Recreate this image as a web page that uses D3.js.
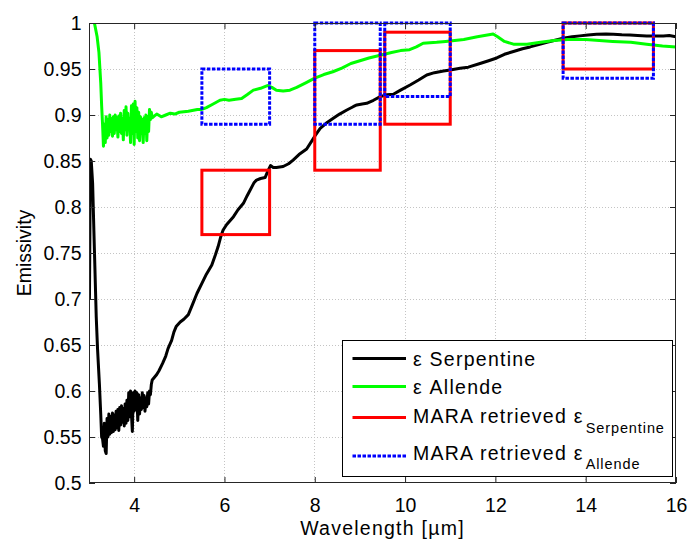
<!DOCTYPE html>
<html>
<head>
<meta charset="utf-8">
<script src="https://cdn.jsdelivr.net/npm/d3@7/dist/d3.min.js"></script>
<style>
  html, body { margin: 0; padding: 0; background: #fff; }
  svg { display: block; font-family: "Liberation Sans", Arial, Helvetica, sans-serif; }
</style>
</head>
<body>
<svg id="chart" width="689" height="541"></svg>
<script>
// Laboratory emissivity spectra (wavelength in µm)
const serpWavelength = [
  3.01, 3.03, 3.05, 3.08, 3.12, 3.16, 3.19, 3.23, 3.26, 3.28,
  3.30, 3.32, 3.34, 3.36, 3.38, 3.40, 3.42, 3.44, 3.46, 3.48,
  3.50, 3.52, 3.54, 3.56, 3.58, 3.60, 3.62, 3.64, 3.66, 3.68,
  3.70, 3.72, 3.74, 3.76, 3.78, 3.80, 3.82, 3.84, 3.86, 3.88,
  3.90, 3.92, 3.94, 3.96, 3.98, 4.00, 4.02, 4.04, 4.06, 4.08,
  4.10, 4.12, 4.14, 4.16, 4.18, 4.20, 4.22, 4.24, 4.26, 4.28,
  4.30, 4.32, 4.34, 4.36, 4.38, 4.40,
  4.45, 4.50, 4.55, 4.63, 4.70, 4.75, 4.83, 4.88, 4.93, 5.02,
  5.10, 5.20, 5.30, 5.39, 5.50, 5.60, 5.72, 5.80, 5.86, 5.92,
  5.97, 6.05, 6.20, 6.30, 6.42, 6.50, 6.57, 6.65, 6.71, 6.80,
  6.90, 6.97, 7.02, 7.08, 7.15, 7.30, 7.42, 7.52, 7.65, 7.82,
  7.95, 8.00, 8.12, 8.25, 8.41, 8.55, 8.71, 8.85, 8.93, 9.05,
  9.15, 9.30, 9.45, 9.60, 9.74, 9.90, 10.11, 10.30, 10.48, 10.65,
  10.85, 11.00, 11.22, 11.40, 11.66, 11.85, 12.03, 12.20, 12.40, 12.60,
  12.77, 13.00, 13.14, 13.30, 13.50, 13.70, 13.87, 14.05, 14.24, 14.45,
  14.61, 14.80, 14.98, 15.15, 15.35, 15.50, 15.72, 15.85, 16.00
];
const serpEmissivity = [
  0.700, 0.852, 0.850, 0.826, 0.753, 0.681, 0.645, 0.608, 0.575, 0.550,
  0.548, 0.540, 0.565, 0.535, 0.532, 0.570, 0.550, 0.575, 0.553, 0.572,
  0.555, 0.576, 0.556, 0.574, 0.558, 0.578, 0.560, 0.580, 0.557, 0.582,
  0.563, 0.584, 0.566, 0.581, 0.562, 0.586, 0.565, 0.590, 0.568, 0.598,
  0.572, 0.600, 0.575, 0.556, 0.598, 0.578, 0.600, 0.580, 0.598, 0.568,
  0.596, 0.575, 0.592, 0.580, 0.598, 0.582, 0.595, 0.578, 0.592, 0.583,
  0.598, 0.586, 0.600, 0.596, 0.607, 0.612,
  0.615, 0.618, 0.622, 0.630, 0.638, 0.646, 0.655, 0.664, 0.670, 0.675,
  0.678, 0.683, 0.695, 0.706, 0.717, 0.727, 0.737, 0.748, 0.757, 0.768,
  0.775, 0.781, 0.7895, 0.797, 0.804, 0.812, 0.8185, 0.826, 0.8293, 0.831,
  0.832, 0.840, 0.845, 0.843, 0.843, 0.844, 0.847, 0.851, 0.857, 0.863,
  0.873, 0.877, 0.8855, 0.891, 0.8964, 0.901, 0.9054, 0.909, 0.9109, 0.912,
  0.9127, 0.916, 0.920, 0.922, 0.9225, 0.927, 0.9326, 0.938, 0.9435, 0.946,
  0.9478, 0.949, 0.9507, 0.952, 0.956, 0.959, 0.962, 0.966, 0.969, 0.972,
  0.974, 0.977, 0.979, 0.981, 0.9834, 0.985, 0.986, 0.987, 0.9877, 0.988,
  0.9877, 0.9872, 0.987, 0.9865, 0.986, 0.9858, 0.986, 0.9865, 0.985
];

const allendeWavelength = [
  3.02, 3.12, 3.18, 3.22, 3.26, 3.28,
  3.30, 3.32, 3.34, 3.36, 3.38, 3.40, 3.42, 3.44, 3.46, 3.48,
  3.50, 3.52, 3.54, 3.56, 3.58, 3.60, 3.62, 3.64, 3.66, 3.68,
  3.70, 3.72, 3.74, 3.76, 3.78, 3.80, 3.82, 3.84, 3.86, 3.88,
  3.90, 3.92, 3.94, 3.96, 3.98, 4.00, 4.02, 4.04, 4.06, 4.08,
  4.10, 4.12, 4.14, 4.16, 4.18, 4.20, 4.22, 4.24, 4.26, 4.28,
  4.30, 4.32, 4.34, 4.36, 4.38, 4.40,
  4.45, 4.50, 4.60, 4.70, 4.80, 4.90, 5.00, 5.20, 5.40, 5.50,
  5.60, 5.75, 5.90, 6.00, 6.10, 6.25, 6.38, 6.50, 6.64, 6.80,
  6.95, 7.05, 7.15, 7.30, 7.45, 7.60, 7.80, 8.00, 8.20, 8.40,
  8.60, 8.80, 9.00, 9.20, 9.45, 9.70, 9.90, 10.10, 10.25, 10.40,
  10.70, 10.90, 11.30, 11.60, 11.95, 12.05, 12.20, 12.40, 12.70, 13.00,
  13.30, 13.60, 14.00, 14.30, 14.60, 15.00, 15.35, 15.70, 16.00
];
const allendeEmissivity = [
  1.020, 1.000, 0.985, 0.968, 0.935, 0.910,
  0.890, 0.866, 0.890, 0.870, 0.898, 0.875, 0.895, 0.878, 0.900, 0.882,
  0.896, 0.877, 0.898, 0.880, 0.900, 0.884, 0.897, 0.876, 0.899, 0.882,
  0.902, 0.880, 0.896, 0.873, 0.905, 0.884, 0.909, 0.878, 0.902, 0.885,
  0.896, 0.870, 0.910, 0.880, 0.912, 0.868, 0.915, 0.882, 0.908, 0.875,
  0.903, 0.872, 0.898, 0.880, 0.895, 0.870, 0.897, 0.880, 0.900, 0.872,
  0.898, 0.882, 0.906, 0.895, 0.903, 0.897,
  0.899, 0.901, 0.898, 0.900, 0.902, 0.901, 0.903, 0.904, 0.906, 0.906,
  0.908, 0.912, 0.916, 0.917, 0.916, 0.917, 0.918, 0.922, 0.927, 0.929,
  0.932, 0.930, 0.927, 0.926, 0.927, 0.930, 0.935, 0.940, 0.944, 0.947,
  0.951, 0.956, 0.959, 0.962, 0.965, 0.968, 0.970, 0.971, 0.974, 0.978,
  0.979, 0.980, 0.982, 0.985, 0.988, 0.985, 0.980, 0.977, 0.977, 0.979,
  0.981, 0.982, 0.982, 0.981, 0.980, 0.979, 0.977, 0.975, 0.974
];

// MARA retrieved emissivity ranges per spectral band
const maraBandLo = [5.5, 8.0, 9.55, 13.5];
const maraBandHi = [7.0, 9.45, 11.0, 15.5];
const maraSerpLo = [0.77, 0.84, 0.89, 0.95];
const maraSerpHi = [0.84, 0.97, 0.99, 1.00];
const maraAllendeLo = [0.89, 0.89, 0.92, 0.94];
const maraAllendeHi = [0.95, 1.00, 1.00, 1.00];

const xTicks = [4, 6, 8, 10, 12, 14, 16];
const yTicks = [0.5, 0.55, 0.6, 0.65, 0.7, 0.75, 0.8, 0.85, 0.9, 0.95, 1];

const legendLabels = [
  { main: "\u03b5 Serpentine", sub: "" },
  { main: "\u03b5 Allende", sub: "" },
  { main: "MARA retrieved \u03b5", sub: "Serpentine" },
  { main: "MARA retrieved \u03b5", sub: "Allende" }
];

// ---- layout ----
const L = 89, R = 676, T = 23, B = 483;
const svg = d3.select("#chart");
const x = d3.scaleLinear().domain([3, 16]).range([L, R]);
const y = d3.scaleLinear().domain([0.5, 1]).range([B, T]);

svg.append("rect").attr("width", 689).attr("height", 541).attr("fill", "#fff");

// grid
const grid = svg.append("g").attr("class", "grid");
grid.selectAll("line.gx").data(xTicks.filter(d => d < 16)).join("line")
  .attr("x1", d => x(d)).attr("x2", d => x(d)).attr("y1", T).attr("y2", B);
grid.selectAll("line.gy").data(yTicks.filter(d => d > 0.5 && d < 1)).join("line")
  .attr("class", "gy")
  .attr("x1", L).attr("x2", R).attr("y1", d => y(d)).attr("y2", d => y(d));
grid.selectAll("line").attr("stroke", "#c4c4c4").attr("stroke-width", 1)
  .attr("stroke-dasharray", "1,2").attr("shape-rendering", "crispEdges");

// clip
svg.append("clipPath").attr("id", "plotClip")
  .append("rect").attr("x", L).attr("y", T).attr("width", R - L).attr("height", B - T);

const plot = svg.append("g").attr("clip-path", "url(#plotClip)");
const line = d3.line().x(d => x(d[0])).y(d => y(d[1]));

const serp = serpWavelength.map((w, i) => [w, serpEmissivity[i]]);
const allende = allendeWavelength.map((w, i) => [w, allendeEmissivity[i]]);

plot.append("path").datum(serp).attr("d", line)
  .attr("fill", "none").attr("stroke", "#000").attr("stroke-width", 3)
  .attr("stroke-linejoin", "round");
plot.append("path").datum(allende).attr("d", line)
  .attr("fill", "none").attr("stroke", "#00ff00").attr("stroke-width", 3)
  .attr("stroke-linejoin", "round");

// retrieved ranges as boxes
const boxes = svg.append("g");
maraBandLo.forEach((lo, i) => {
  boxes.append("rect")
    .attr("x", x(lo)).attr("y", y(maraSerpHi[i]))
    .attr("width", x(maraBandHi[i]) - x(lo))
    .attr("height", y(maraSerpLo[i]) - y(maraSerpHi[i]))
    .attr("fill", "none").attr("stroke", "#ff0000").attr("stroke-width", 3);
});
maraBandLo.forEach((lo, i) => {
  boxes.append("rect")
    .attr("x", x(lo)).attr("y", y(maraAllendeHi[i]))
    .attr("width", x(maraBandHi[i]) - x(lo))
    .attr("height", y(maraAllendeLo[i]) - y(maraAllendeHi[i]))
    .attr("fill", "none").attr("stroke", "#0000ff").attr("stroke-width", 3)
    .attr("stroke-dasharray", "3.5,1.5");
});

// axes
const fontSize = 19.5;
const spacing = 1.25;
const axB = svg.append("g").attr("transform", `translate(0,${B})`)
  .call(d3.axisBottom(x).tickValues(xTicks).tickFormat(d3.format("d"))
    .tickSizeInner(-6).tickSizeOuter(0).tickPadding(15));
const axL = svg.append("g").attr("transform", `translate(${L},0)`)
  .call(d3.axisLeft(y).tickValues(yTicks).tickFormat(d => d3.format("")(+d.toFixed(2)))
    .tickSizeInner(-6).tickSizeOuter(0).tickPadding(7.5));
const axT = svg.append("g").attr("transform", `translate(0,${T})`)
  .call(d3.axisTop(x).tickValues(xTicks).tickFormat("").tickSizeInner(-6).tickSizeOuter(0));
const axR = svg.append("g").attr("transform", `translate(${R},0)`)
  .call(d3.axisRight(y).tickValues(yTicks).tickFormat("").tickSizeInner(-6).tickSizeOuter(0));

[axB, axL, axT, axR].forEach(a => {
  a.select(".domain").remove();
  a.selectAll(".tick line").attr("stroke", "#262626").attr("stroke-width", 1);
  a.selectAll("text").attr("fill", "#000").attr("font-size", fontSize)
    .attr("font-family", "Liberation Sans, Arial, sans-serif");
});

svg.append("rect").attr("x", L + 0.5).attr("y", T + 0.5)
  .attr("width", R - L - 1).attr("height", B - T - 1)
  .attr("fill", "none").attr("stroke", "#262626").attr("stroke-width", 1);

// axis titles
svg.append("text").attr("x", (L + R) / 2).attr("y", 535)
  .attr("text-anchor", "middle").attr("font-size", fontSize)
  .attr("letter-spacing", spacing).text("Wavelength [\u00b5m]");
svg.append("text").attr("transform", `translate(31,${(T + B) / 2}) rotate(-90)`)
  .attr("text-anchor", "middle").attr("font-size", fontSize).text("Emissivity");

// legend
const lg = svg.append("g");
lg.append("rect").attr("x", 342.5).attr("y", 340.5).attr("width", 330).attr("height", 136)
  .attr("fill", "#fff").attr("stroke", "#000").attr("stroke-width", 1);
const rowLineY = [358.5, 386.5, 417.5, 456];
const rowTextY = [366, 394, 423, 459.5];
const rowStyles = [
  { color: "#000", dash: null },
  { color: "#00ff00", dash: null },
  { color: "#ff0000", dash: null },
  { color: "#0000ff", dash: "3.5,1.5" }
];
legendLabels.forEach((lab, i) => {
  lg.append("line").attr("x1", 352.5).attr("x2", 406).attr("y1", rowLineY[i]).attr("y2", rowLineY[i])
    .attr("stroke", rowStyles[i].color).attr("stroke-width", 3)
    .attr("stroke-dasharray", rowStyles[i].dash);
  const t = lg.append("text").attr("x", 413).attr("y", rowTextY[i])
    .attr("font-size", fontSize).attr("letter-spacing", spacing);
  t.append("tspan").text(lab.main);
  if (lab.sub) {
    t.append("tspan").attr("dx", 2).attr("dy", 9.5).attr("font-size", 14.5)
      .attr("letter-spacing", 0.9).text(lab.sub);
  }
});
</script>
</body>
</html>
